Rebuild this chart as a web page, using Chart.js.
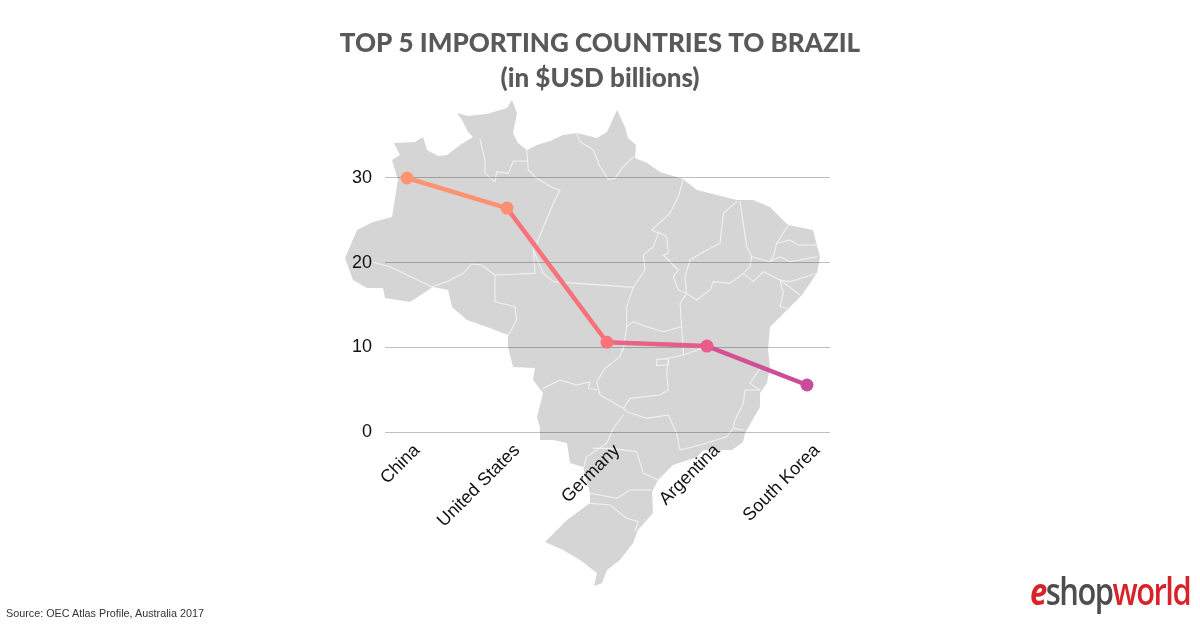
<!DOCTYPE html>
<html><head><meta charset="utf-8">
<style>
html,body{margin:0;padding:0;background:#fff;width:1200px;height:627px;overflow:hidden}
#wrap{position:relative;width:1200px;height:627px}
canvas{position:absolute;left:0;top:0}
#source{position:absolute;left:6px;top:607px;font:10.8px "Liberation Sans",Arial,sans-serif;color:#333}
#logo{position:absolute;left:1030px;top:568px;font:600 37px/46px "Open Sans",sans-serif;letter-spacing:-1.8px;color:#d8232a;white-space:nowrap;transform:scaleX(.835);transform-origin:left top}
#logo .e{font-weight:700;font-style:italic}
#logo .s{color:#4d4d4d}
</style>
</head><body>
<div id="wrap">
<canvas id="c" width="1200" height="627"></canvas>
<div id="source">Source: OEC Atlas Profile, Australia 2017</div>
<div id="logo"><span class="e">e</span><span class="s">shop</span>world</div>
</div>
<script src="https://cdn.jsdelivr.net/npm/chart.js@4"></script>
<script>
const categories = ["China","United States","Germany","Argentina","South Korea"];
const importValues = [30, 26.45, 10.6, 10.15, 5.55];
const tickValues = [0, 10, 20, 30];
const titleLines = ["TOP 5 IMPORTING COUNTRIES TO BRAZIL","(in $USD billions)"];
const pointColors = ["#ff9473","#fd8f72","#fb7279","#e75c88","#c74d9a"];
const segmentStarts = ["#ff9473","#f8737a","#ee6484","#d65392"];
const segmentEnds = ["#fd9072","#f7707a","#e35b8b","#c74d9a"];

/* Decorative background map of Brazil (not data) */
const mapOutline = [[394,143],[415,142],[423,137],[427,150],[438,156],[447,155],[460,145],[473,137],[468,132],[462,120],[457,113],[468,116],[487,114],[507,108],[512,100],[517,113],[513,133],[518,143],[527,150],[537,145],[550,141],[563,135],[577,133],[597,138],[607,132],[617,110],[625,127],[628,138],[636,145],[635,158],[647,163],[660,172],[683,179],[697,190],[717,195],[737,200],[753,200],[770,207],[788,225],[813,230],[820,257],[817,273],[802,295],[787,310],[770,327],[768,350],[770,367],[767,383],[760,393],[760,407],[745,433],[743,442],[732,450],[703,450],[697,457],[673,465],[658,480],[652,492],[653,513],[638,530],[633,543],[620,560],[607,570],[602,583],[594,586],[597,573],[580,560],[563,550],[545,542],[567,520],[590,503],[590,493],[583,467],[570,463],[567,443],[553,440],[540,440],[540,428],[537,417],[543,393],[533,380],[535,368],[513,367],[508,347],[508,335],[487,327],[467,320],[452,307],[448,290],[433,287],[410,302],[385,298],[383,288],[367,288],[353,280],[345,258],[357,230],[373,222],[392,217],[398,180],[392,160],[400,155]];
const z1 = p => p.map(([x,y]) => [340+x/3, 100+y/3]);
const z2 = p => p.map(([x,y]) => [340+x/3, 340+y/3]);
const mapBorders = [
 z1([[420,118],[435,180],[435,220],[465,245],[470,215],[505,220],[520,183],[560,183]]),
 z1([[560,150],[565,210],[590,235],[640,265],[660,270],[640,310],[590,430],[580,450],[585,520],[465,525],[465,605],[525,620],[530,660],[505,705]]),
 z1([[100,487],[150,500],[275,560],[320,545],[370,520],[395,492],[425,495],[465,525]]),
 z1([[580,450],[610,520],[640,545],[880,562]]),
 z1([[710,100],[720,125],[760,150],[780,200],[805,238],[825,235],[845,205],[880,170]]),
 z1([[1030,238],[1015,290],[990,340],[935,390],[955,400],[940,440],[910,465],[915,510],[880,562],[860,620],[860,680],[850,750]]),
 z1([[955,395],[980,410],[985,460],[970,465],[1000,495],[1015,510],[1000,530],[1015,570],[1040,580],[1020,610],[1025,680],[1030,750]]),
 z1([[860,680],[880,665],[920,680],[970,695],[1025,680]]),
 z1([[1190,305],[1150,340],[1140,430],[1100,450],[1050,480],[1035,530],[1040,580],[1070,600],[1110,570],[1120,545],[1170,550],[1210,520],[1240,545],[1270,515],[1320,540],[1380,585]]),
 z1([[1200,305],[1220,440],[1235,470],[1230,500],[1210,520]]),
 z1([[1235,470],[1290,485],[1320,470],[1350,485],[1430,470]]),
 z1([[1345,375],[1310,430],[1300,470],[1290,485]]),
 z1([[1310,430],[1350,420],[1375,435],[1430,435]]),
 z1([[1320,540],[1350,545],[1430,520]]),
 z1([[1320,540],[1330,580],[1320,620],[1340,625]]),
 z2([[850,20],[840,50],[795,85],[770,125],[780,165],[850,205]]),
 z2([[610,145],[660,120],[710,135],[750,125],[745,145],[770,150]]),
 z2([[850,205],[870,175],[960,165],[985,150],[980,100],[985,55],[1030,45],[1030,20]]),
 z2([[950,58],[985,56],[985,75],[950,77],[950,58]]),
 z2([[1030,45],[1100,20]]),
 z2([[1260,85],[1230,130],[1260,150],[1215,150],[1210,190],[1185,240],[1180,265],[1210,270]]),
 z2([[850,205],[860,215],[920,235],[985,225],[1010,280],[1020,330],[1080,315],[1160,290],[1180,265]]),
 z2([[850,225],[820,265],[800,310],[740,350],[730,385]]),
 z2([[760,325],[810,325],[890,335],[910,400],[955,420]]),
 z2([[750,460],[830,475],[870,450],[935,450]]),
 z2([[750,490],[810,495],[860,535],[895,545],[885,575]])
];
const mapPlugin = {
  id:"brazilMap",
  beforeDraw(chart){
    const g = chart.ctx; g.save();
    g.lineJoin="round"; g.lineCap="round";
    g.beginPath();
    mapOutline.forEach(([x,y],i)=> i?g.lineTo(x,y):g.moveTo(x,y));
    g.closePath(); g.fillStyle="#d5d5d5"; g.fill();
    g.strokeStyle="#f1f1f1"; g.lineWidth=1.1;
    mapBorders.forEach(l=>{ g.beginPath(); l.forEach(([x,y],i)=> i?g.lineTo(x,y):g.moveTo(x,y)); g.stroke(); });
    g.restore();
  }
};
function segGrad(ctx){
  const g = ctx.chart.ctx.createLinearGradient(ctx.p0.x,0,ctx.p1.x,0);
  g.addColorStop(0,segmentStarts[ctx.p0DataIndex]);
  g.addColorStop(1,segmentEnds[ctx.p0DataIndex]);
  return g;
}
new Chart(document.getElementById("c"),{
  type:"line",
  data:{datasets:[{
    data:importValues.map((v,i)=>({x:i,y:v})),
    borderWidth:4.5,
    borderColor:pointColors[0],
    segment:{borderColor:segGrad},
    pointRadius:6.5,pointHoverRadius:6.5,
    pointBackgroundColor:pointColors,pointBorderWidth:0,
    tension:0,clip:false,
    yAxisID:"y"
  }]},
  options:{
    responsive:false,animation:false,
    plugins:{
      legend:{display:false},tooltip:{enabled:false},
      title:{display:true,text:titleLines,color:"#595959",fullSize:true,
        font:{family:"Lato",size:26,weight:"900",lineHeight:1.346},
        padding:{top:26,bottom:82}}
    },
    scales:{
      x:{type:"linear",min:-0.22,max:4.23,
        afterBuildTicks(a){a.ticks=categories.map((_,i)=>({value:i}));},
        afterFit(a){a.height=195;},
        grid:{display:false},border:{display:false},
        ticks:{callback:v=>categories[v],autoSkip:false,minRotation:45,maxRotation:45,
          padding:0,labelOffset:10,color:"#111",font:{family:"Liberation Sans",size:18}}},
      y:{min:0,max:30,
        afterBuildTicks(a){a.ticks=tickValues.map(v=>({value:v}));},
        afterFit(a){a.width=385;},
        grid:{color:"rgba(0,0,0,0.25)",lineWidth:1,drawTicks:false},border:{display:false},
        ticks:{padding:13,color:"#111",font:{family:"Liberation Sans",size:18}}},
      rightGap:{position:"right",min:0,max:30,
        afterFit(a){a.width=370;},
        grid:{display:false},border:{display:false},ticks:{display:false}}
    }
  },
  plugins:[mapPlugin]
});
</script>
</body></html>
